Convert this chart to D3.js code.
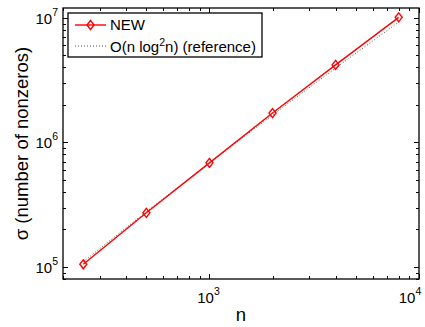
<!DOCTYPE html>
<html>
<head>
<meta charset="utf-8">
<script src="https://cdn.jsdelivr.net/npm/d3@7"></script>
<style>
  body { margin: 0; background: #fff; }
  text { font-family: "Liberation Sans", Arial, sans-serif; fill: #000; }
</style>
</head>
<body>
<div id="chart"></div>
<script>
// data
var nValues = [250, 500, 1000, 2000, 4000, 8000];
var newValues = [1.05e5, 2.72e5, 6.85e5, 1.72e6, 4.19e6, 1.01e7];
var refValues = [1.10e5, 2.78e5, 6.85e5, 1.66e6, 3.95e6, 9.25e6];
var xTickExps = [3, 4];
var yTickExps = [5, 6, 7];
var legendLabels = ["NEW", "O(n log\u00b2n) (reference)"];

var width = 425, height = 327;
var margin = { top: 8, right: 6, bottom: 48, left: 63 };
var w = width - margin.left - margin.right;
var h = height - margin.top - margin.bottom;

var x = d3.scaleLog().domain([200, 10000]).range([0, w]);
var y = d3.scaleLog().domain([8e4, 1.2e7]).range([h, 0]);

var svg = d3.select("#chart").append("svg")
    .attr("width", width)
    .attr("height", height);

var g = svg.append("g")
    .attr("transform", "translate(" + margin.left + "," + margin.top + ")");

// minor + major ticks, drawn inward on all four sides
var xMinor = [], yMinor = [];
[2, 3].forEach(function(e) {
    for (var k = 1; k < 10; k++) xMinor.push(k * Math.pow(10, e));
});
xMinor.push(10000);
xMinor = xMinor.filter(function(v) { return v >= 200 && v <= 10000; });
[4, 5, 6, 7].forEach(function(e) {
    for (var k = 1; k < 10; k++) yMinor.push(k * Math.pow(10, e));
});
yMinor = yMinor.filter(function(v) { return v >= 8e4 && v <= 1.2e7; });

var ticks = g.append("g").attr("stroke", "#000").attr("stroke-width", 1);
xMinor.forEach(function(v) {
    var major = Math.abs(Math.log10(v) % 1) < 1e-9;
    var len = major ? 5 : 3;
    var px = Math.round(x(v)) + 0.5;
    ticks.append("line").attr("x1", px).attr("x2", px).attr("y1", h).attr("y2", h - len);
    ticks.append("line").attr("x1", px).attr("x2", px).attr("y1", 0).attr("y2", len);
});
yMinor.forEach(function(v) {
    var major = Math.abs(Math.log10(v) % 1) < 1e-9;
    var len = major ? 5 : 3;
    var py = Math.round(y(v)) + 0.5;
    ticks.append("line").attr("x1", 0).attr("x2", len).attr("y1", py).attr("y2", py);
    ticks.append("line").attr("x1", w).attr("x2", w - len).attr("y1", py).attr("y2", py);
});

// box
g.append("rect")
    .attr("width", w)
    .attr("height", h)
    .attr("fill", "none")
    .attr("stroke", "#000")
    .attr("stroke-width", 1.3);

// tick labels
xTickExps.forEach(function(e) {
    var px = x(Math.pow(10, e));
    var t = g.append("text")
        .attr("x", Math.min(px - 1, w - 9))
        .attr("y", h + 24)
        .attr("text-anchor", "middle")
        .style("font-size", "15px");
    t.append("tspan").text("10");
    t.append("tspan").attr("dy", -8).style("font-size", "10.5px").text(e);
});
yTickExps.forEach(function(e) {
    var t = g.append("text")
        .attr("x", -5)
        .attr("y", y(Math.pow(10, e)) + 6)
        .attr("text-anchor", "end")
        .style("font-size", "15px");
    t.append("tspan").text("10");
    t.append("tspan").attr("dy", -8).style("font-size", "10.5px").text(e);
});

// axis titles
svg.append("text")
    .attr("x", margin.left + w / 2)
    .attr("y", 321)
    .attr("text-anchor", "middle")
    .style("font-size", "18.5px")
    .text("n");
svg.append("text")
    .attr("transform", "translate(28," + (margin.top + h / 2) + ") rotate(-90)")
    .attr("text-anchor", "middle")
    .style("font-size", "18.5px")
    .text("\u03c3 (number of nonzeros)");

var line = d3.line()
    .x(function(d) { return x(d[0]); })
    .y(function(d) { return y(d[1]); });

// reference line (dotted)
g.append("path")
    .datum(d3.zip(nValues, refValues))
    .attr("d", line)
    .attr("fill", "none")
    .attr("stroke", "#555")
    .attr("stroke-width", 1)
    .attr("stroke-dasharray", "1,2");

// NEW line
g.append("path")
    .datum(d3.zip(nValues, newValues))
    .attr("d", line)
    .attr("fill", "none")
    .attr("stroke", "#ff0000")
    .attr("stroke-width", 1.4);

function diamond(cx, cy) {
    return "M" + cx + "," + (cy - 4.5) + "L" + (cx + 3.5) + "," + cy +
        "L" + cx + "," + (cy + 4.5) + "L" + (cx - 3.5) + "," + cy + "Z";
}

g.selectAll(".marker")
    .data(d3.zip(nValues, newValues))
    .enter().append("path")
    .attr("class", "marker")
    .attr("d", function(d) { return diamond(x(d[0]), y(d[1])); })
    .attr("fill", "none")
    .attr("stroke", "#ff0000")
    .attr("stroke-width", 1.4);

// legend
var lg = svg.append("g").attr("transform", "translate(68,13)");
lg.append("rect")
    .attr("width", 194)
    .attr("height", 44)
    .attr("fill", "#fff")
    .attr("stroke", "#000")
    .attr("stroke-width", 1.3);
lg.append("line")
    .attr("x1", 7).attr("x2", 38).attr("y1", 12).attr("y2", 12)
    .attr("stroke", "#ff0000").attr("stroke-width", 1.4);
lg.append("path")
    .attr("d", diamond(22.5, 12))
    .attr("fill", "none")
    .attr("stroke", "#ff0000")
    .attr("stroke-width", 1.4);
lg.append("text")
    .attr("x", 42).attr("y", 17)
    .style("font-size", "15px")
    .text(legendLabels[0]);
lg.append("line")
    .attr("x1", 7).attr("x2", 38).attr("y1", 33).attr("y2", 33)
    .attr("stroke", "#555").attr("stroke-width", 1)
    .attr("stroke-dasharray", "1,2");
var t2 = lg.append("text")
    .attr("x", 42).attr("y", 39)
    .style("font-size", "15px");
t2.append("tspan").text("O(n log");
t2.append("tspan").attr("dy", -6).style("font-size", "10.5px").text("2");
t2.append("tspan").attr("dy", 6).text("n) (reference)");
</script>
</body>
</html>
